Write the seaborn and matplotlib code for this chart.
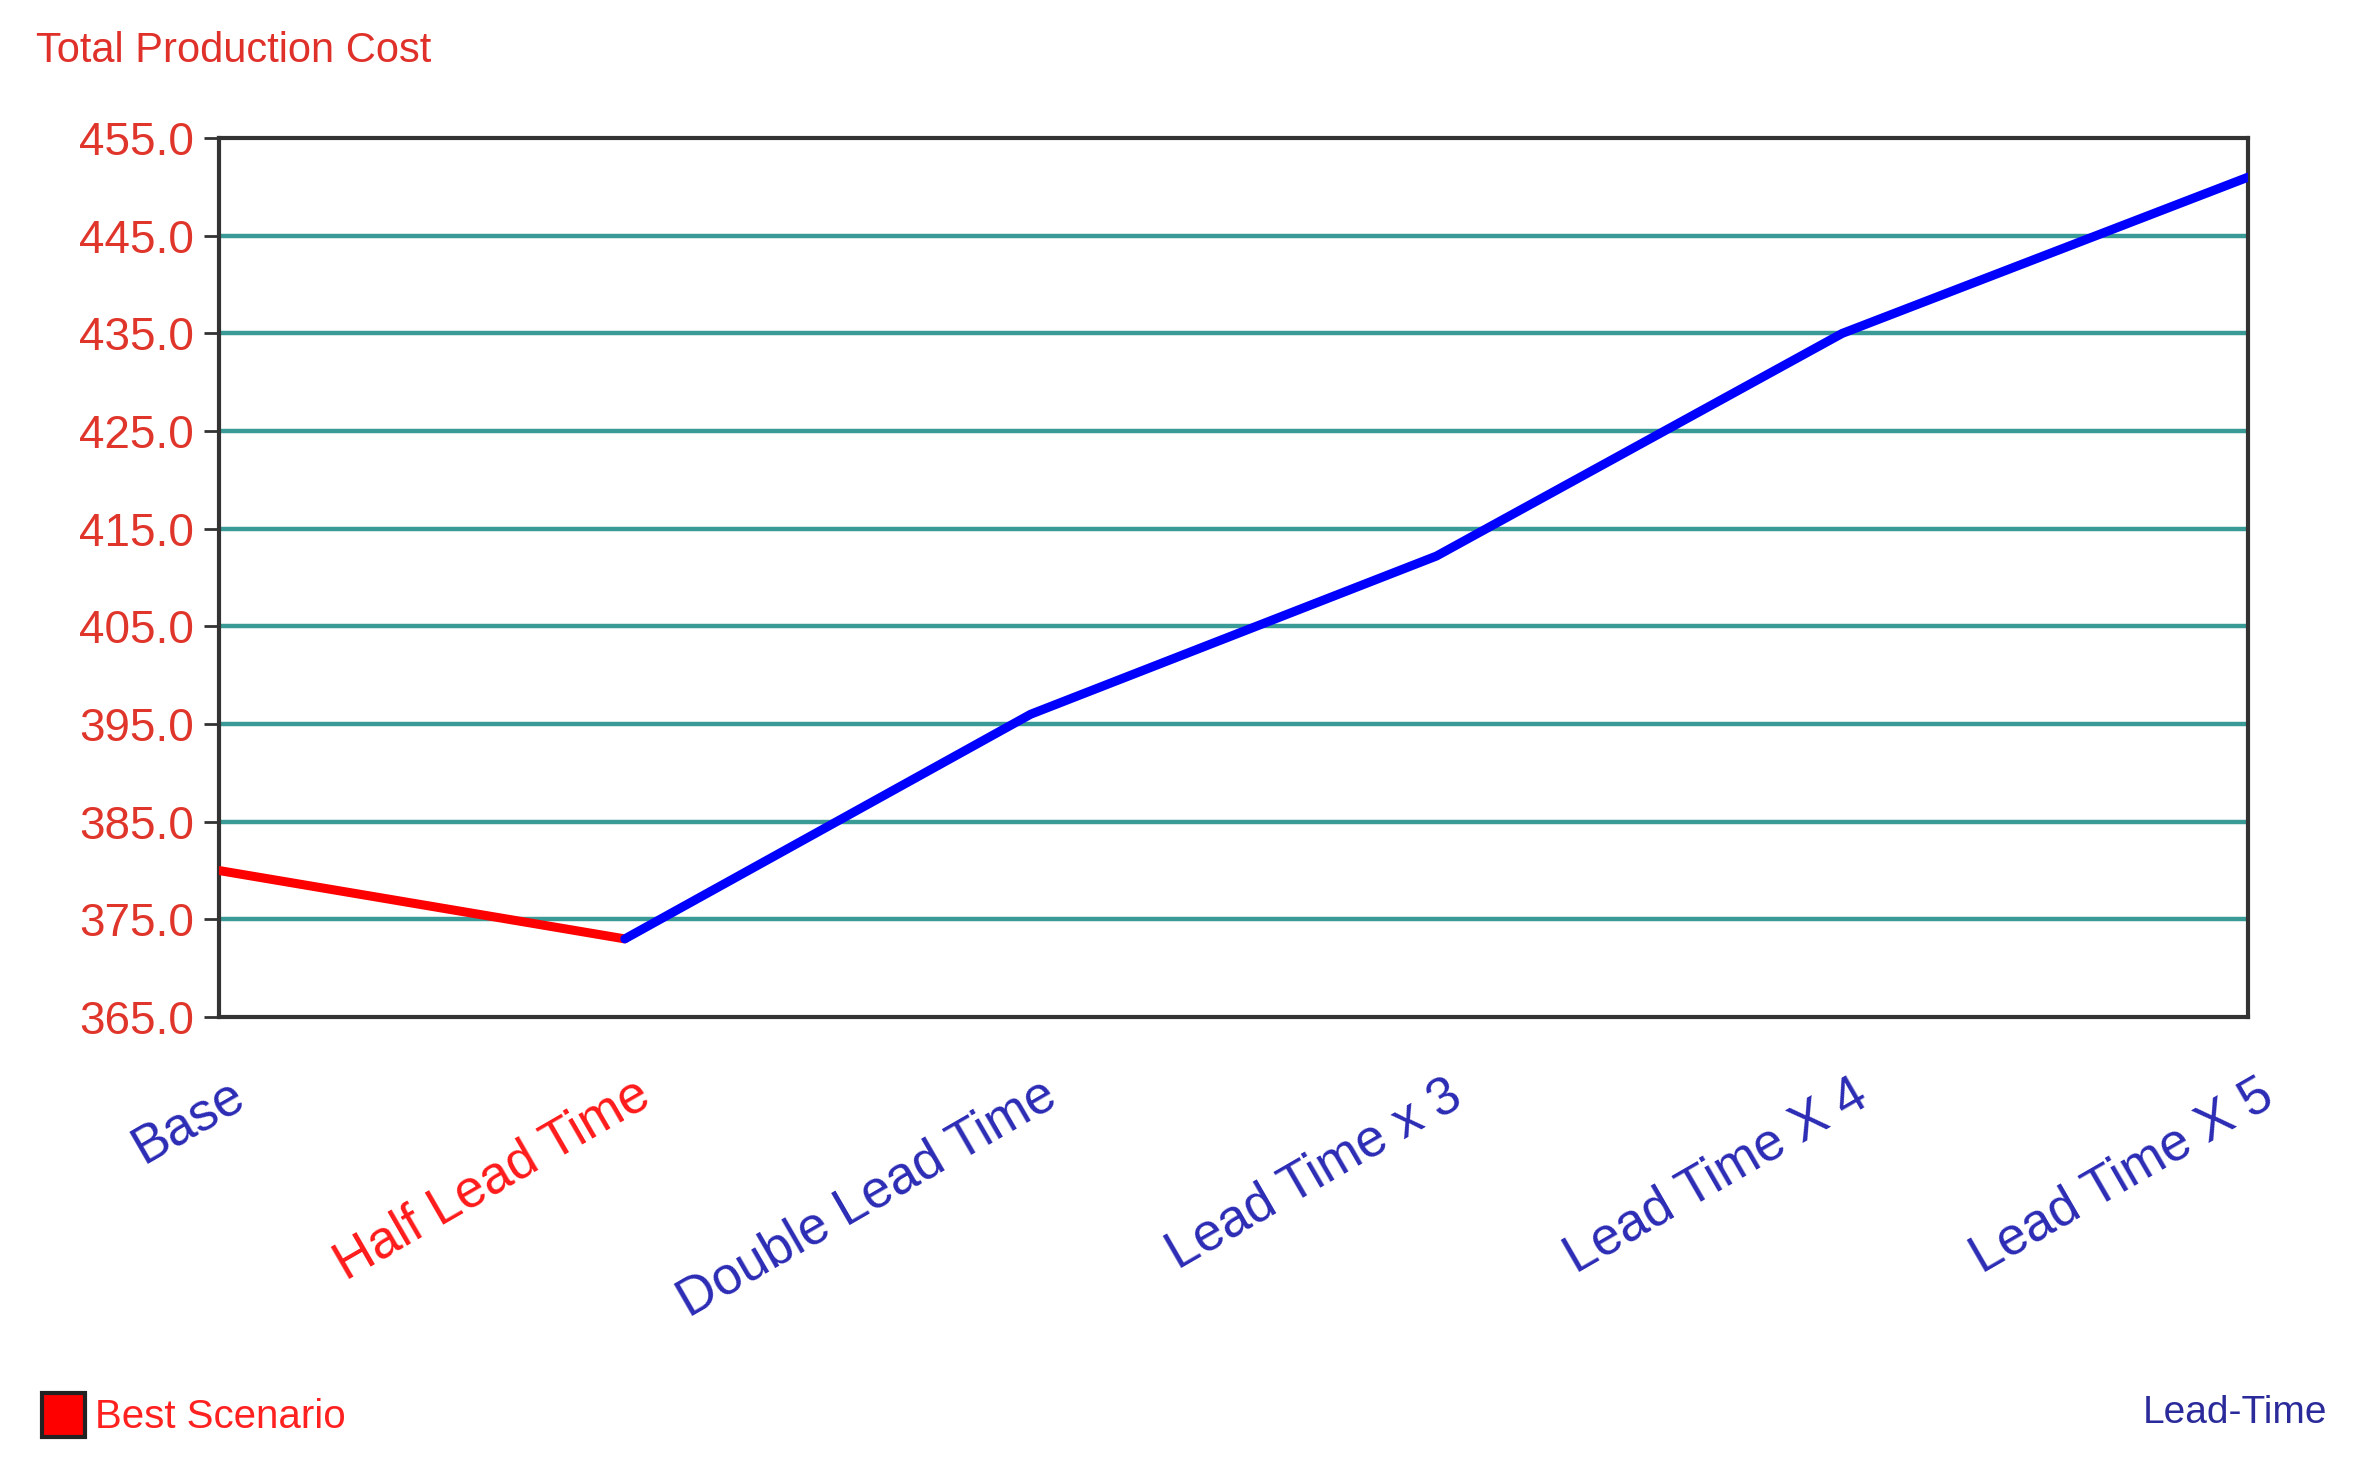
import seaborn as sns
import pandas as pd
import matplotlib.pyplot as plt
from matplotlib.patches import Rectangle
from matplotlib.transforms import ScaledTranslation

scenarios = ['Base', 'Half Lead Time', 'Double Lead Time', 'Lead Time x 3',
             'Lead Time X 4', 'Lead Time X 5']
cost = [380.0, 373.0, 396.0, 412.2, 435.0, 451.0]
best = 'Half Lead Time'
yticks = [365, 375, 385, 395, 405, 415, 425, 435, 445, 455]

df = pd.DataFrame({'pos': range(len(scenarios)), 'scenario': scenarios, 'cost': cost})
best_i = scenarios.index(best)

sns.set_style('white')
plt.rcParams['font.family'] = ['Liberation Sans', 'DejaVu Sans']

fig = plt.figure(figsize=(23.57, 14.75), dpi=100)
ax = fig.add_axes([0.0929, 0.3105, 0.8609, 0.5959])

# grid first so lines sit on top
for v in yticks[1:-1]:
    ax.axhline(v, color='#3a9a96', lw=3.2, zorder=1)

sns.lineplot(data=df.iloc[:best_i + 1], x='pos', y='cost', color='#ff0000',
             lw=6.5, ax=ax, zorder=3)
sns.lineplot(data=df.iloc[best_i:], x='pos', y='cost', color='#0000ff',
             lw=6.5, ax=ax, zorder=3)

ax.set_xlim(0, len(scenarios) - 1)
ax.set_ylim(yticks[0], yticks[-1])
ax.set_yticks(yticks)
ax.set_yticklabels([f'{v:.1f}' for v in yticks])
ax.set_xticks(range(len(scenarios)))
ax.set_xticklabels(scenarios, rotation=30, ha='right', va='top',
                   rotation_mode='anchor')
ax.set_xlabel('')
ax.set_ylabel('')

ax.tick_params(axis='y', length=11, width=2, color='#333333', pad=7,
               labelsize=33, labelcolor='#e0352a', left=True)
ax.tick_params(axis='x', length=0, pad=38, labelsize=38)
shift = ScaledTranslation(9 / 100, 0, fig.dpi_scale_trans)
for lab in ax.get_xticklabels():
    lab.set_color('#ff1a1a' if lab.get_text() == best else '#2b2bb5')
    lab.set_transform(lab.get_transform() + shift)

for s in ax.spines.values():
    s.set_color('#333333')
    s.set_linewidth(3)

fig.text(0.0153, 0.9654, 'Total Production Cost', fontsize=30,
         color='#e0302a', ha='left', va='center')

fig.patches.append(Rectangle((0.0178, 0.0258), 0.0183, 0.0298,
                             transform=fig.transFigure, facecolor='#ff0000',
                             edgecolor='#222222', lw=3))
fig.text(0.0403, 0.0393, 'Best Scenario', fontsize=29, color='#ff2020',
         ha='left', va='center')
fig.text(0.9873, 0.0420, 'Lead-Time', fontsize=28, color='#2a2a9a',
         ha='right', va='center')

plt.savefig('out.png', dpi=100)
plt.close()
